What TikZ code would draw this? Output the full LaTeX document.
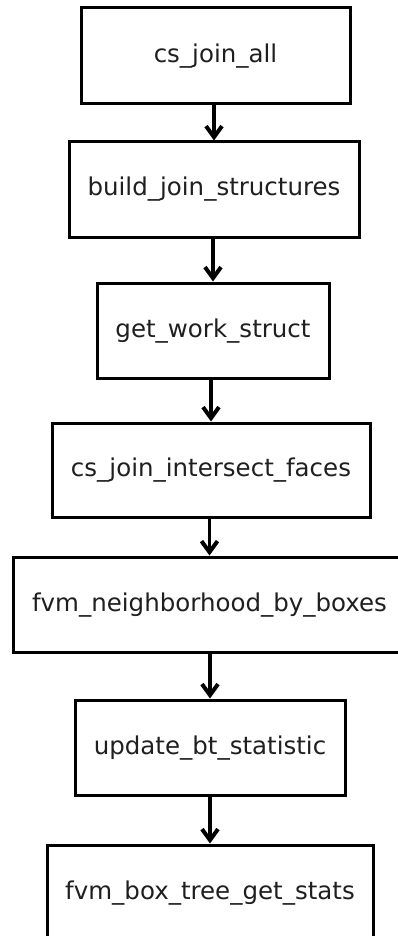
\documentclass[tikz,border=0pt]{standalone}
\usepackage{fontspec}
\setmainfont{DejaVu Sans}
\usetikzlibrary{arrows.meta}
\tikzset{
  fbox/.style={draw=black, line width=3pt, rectangle, minimum height=95pt,
    text height=13pt, text depth=0pt, inner sep=0pt, fill=white,
    font=\fontsize{24.5}{29}\selectfont, text=black!88},
  arr/.style={line width=3.5pt, -{Straight Barb[length=11pt,width=16pt,line width=4pt]}}
}
\begin{document}
\begin{tikzpicture}[x=1pt,y=1pt]
\useasboundingbox (0,0) rectangle (398,-936);
\clip (0,0) rectangle (398,-936);
\fill[white] (0,0) rectangle (398,-936);
\node[fbox, minimum width=269pt, minimum height=96pt] (b1) at (215.5,-56) {cs\_join\_all};
\node[fbox, minimum width=290pt] (b2) at (214,-189.5) {build\_join\_structures};
\node[fbox, minimum width=232pt] (b3) at (213,-330.5) {get\_work\_struct};
\node[fbox, minimum width=318pt, minimum height=94pt] (b4) at (211,-470) {cs\_join\_intersect\_faces};
\node[fbox, minimum width=393pt] (b5) at (209.5,-604.5) {fvm\_neighborhood\_by\_boxes};
\node[fbox, minimum width=270pt] (b6) at (210,-747.5) {update\_bt\_statistic};
\node[fbox, minimum width=326pt] (b7) at (210,-892.5) {fvm\_box\_tree\_get\_stats};
\draw[arr] (b1.south -| b2.north) -- (b2.north);
\draw[arr] (b2.south -| b3.north) -- (b3.north);
\draw[arr] (b3.south -| b4.north) -- (b4.north);
\draw[arr] (b4.south -| b5.north) -- (b5.north);
\draw[arr] (b5.south -| b6.north) -- (b6.north);
\draw[arr] (b6.south -| b7.north) -- (b7.north);
\end{tikzpicture}
\end{document}
